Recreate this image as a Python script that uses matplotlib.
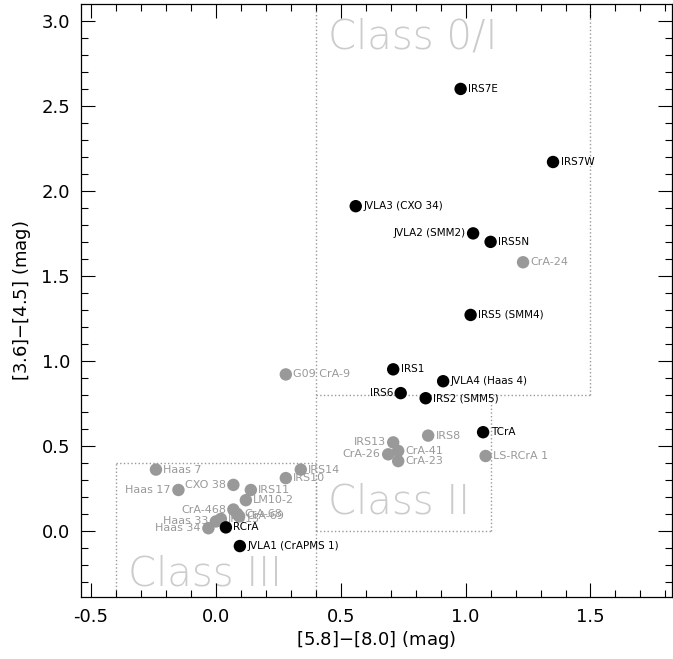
import matplotlib.pyplot as plt
import numpy as np

# black sources (name, [5.8]-[8.0], [3.6]-[4.5], label side)
blk_names = ['IRS7E', 'IRS7W', 'JVLA3 (CXO 34)', 'JVLA2 (SMM2)', 'IRS5N', 'IRS5 (SMM4)',
             'IRS1', 'JVLA4 (Haas 4)', 'IRS6', 'IRS2 (SMM5)', 'TCrA', 'RCrA', 'JVLA1 (CrAPMS 1)']
blk_x = [0.98, 1.35, 0.56, 1.03, 1.10, 1.02, 0.71, 0.91, 0.74, 0.84, 1.07, 0.04, 0.096]
blk_y = [2.60, 2.17, 1.91, 1.75, 1.70, 1.27, 0.95, 0.88, 0.81, 0.78, 0.58, 0.02, -0.09]
blk_side = ['r', 'r', 'r', 'l', 'r', 'r', 'r', 'r', 'l', 'r', 'r', 'r', 'r']

# gray sources
gry_names = ['CrA-24', 'G09 CrA-9', 'IRS8', 'IRS13', 'CrA-41', 'CrA-26', 'CrA-23', 'LS-RCrA 1',
             'IRS14', 'IRS10', 'Haas 7', 'Haas 17', 'CXO 38', 'IRS11', 'LM10-2', 'CrA-468',
             'CrA-68', 'CrA-69', 'IRS15', 'Haas 33', 'Haas 34']
gry_x = [1.23, 0.28, 0.85, 0.71, 0.73, 0.69, 0.73, 1.08,
         0.34, 0.28, -0.24, -0.15, 0.07, 0.14, 0.12, 0.07,
         0.085, 0.093, 0.02, 0.00, -0.03]
gry_y = [1.58, 0.92, 0.56, 0.52, 0.47, 0.45, 0.41, 0.44,
         0.36, 0.31, 0.36, 0.24, 0.27, 0.24, 0.18, 0.125,
         0.10, 0.085, 0.07, 0.055, 0.015]
gry_side = ['r', 'r', 'r', 'l', 'r', 'l', 'r', 'r',
            'r', 'r', 'r', 'l', 'l', 'r', 'r', 'l',
            'r', 'r', 'r', 'l', 'l']

fig = plt.figure(figsize=(6.73, 6.59), dpi=100)
ax = fig.add_axes([0.1204, 0.094, 0.8776, 0.9])

box = dict(color='#999999', ls=':', lw=1.0, zorder=1)
# Class 0/I
ax.plot([0.4, 0.4], [0.8, 3.2], **box)
ax.plot([1.5, 1.5], [0.8, 3.2], **box)
ax.plot([0.4, 1.5], [0.8, 0.8], **box)
# Class II
ax.plot([0.4, 0.4], [0.0, 0.8], **box)
ax.plot([1.1, 1.1], [0.0, 0.8], **box)
ax.plot([0.4, 1.1], [0.0, 0.0], **box)
# Class III
ax.plot([-0.4, -0.4], [-0.5, 0.4], **box)
ax.plot([0.4, 0.4], [-0.5, 0.4], **box)
ax.plot([-0.4, 0.4], [0.4, 0.4], **box)

cls = dict(color='#cccccc', fontsize=29, fontweight='light', zorder=0)
ax.text(0.45, 2.84, 'Class 0/I', va='baseline', **cls)
ax.text(0.45, 0.10, 'Class II', va='baseline', **cls)
ax.text(-0.35, -0.32, 'Class III', va='baseline', **cls)

ax.scatter(gry_x, gry_y, s=80, color='#999999', edgecolors='none', zorder=3)
ax.scatter(blk_x, blk_y, s=80, color='black', edgecolors='none', zorder=4)

for n, x, y, s in zip(gry_names, gry_x, gry_y, gry_side):
    dx = 0.03 if s == 'r' else -0.03
    ax.text(x + dx, y, n, color='#999999', fontsize=8, va='center',
            ha='left' if s == 'r' else 'right', zorder=5)
for n, x, y, s in zip(blk_names, blk_x, blk_y, blk_side):
    dx = 0.03 if s == 'r' else -0.03
    ax.text(x + dx, y, n, color='black', fontsize=7.5, va='center',
            ha='left' if s == 'r' else 'right', zorder=5)

ax.set_xlim(-0.54, 1.825)
ax.set_ylim(-0.39, 3.1)
ax.set_xticks([-0.5, 0.0, 0.5, 1.0, 1.5])
ax.set_yticks([0.0, 0.5, 1.0, 1.5, 2.0, 2.5, 3.0])
ax.set_xticks(np.arange(-0.5, 1.85, 0.1), minor=True)
ax.set_yticks(np.arange(-0.3, 3.1, 0.1), minor=True)
ax.xaxis.set_major_formatter(plt.FormatStrFormatter('%.1f'))
ax.yaxis.set_major_formatter(plt.FormatStrFormatter('%.1f'))
ax.tick_params(which='both', direction='in', top=True, right=True, labelsize=13, width=0.8)
ax.tick_params(which='major', length=10, pad=8)
ax.tick_params(which='minor', length=5)
ax.set_xlabel('[5.8]$-$[8.0] (mag)', fontsize=13, labelpad=2)
ax.set_ylabel('[3.6]$-$[4.5] (mag)', fontsize=13, labelpad=6)
for sp in ax.spines.values():
    sp.set_linewidth(0.9)

fig.savefig('out.png', dpi=100)
